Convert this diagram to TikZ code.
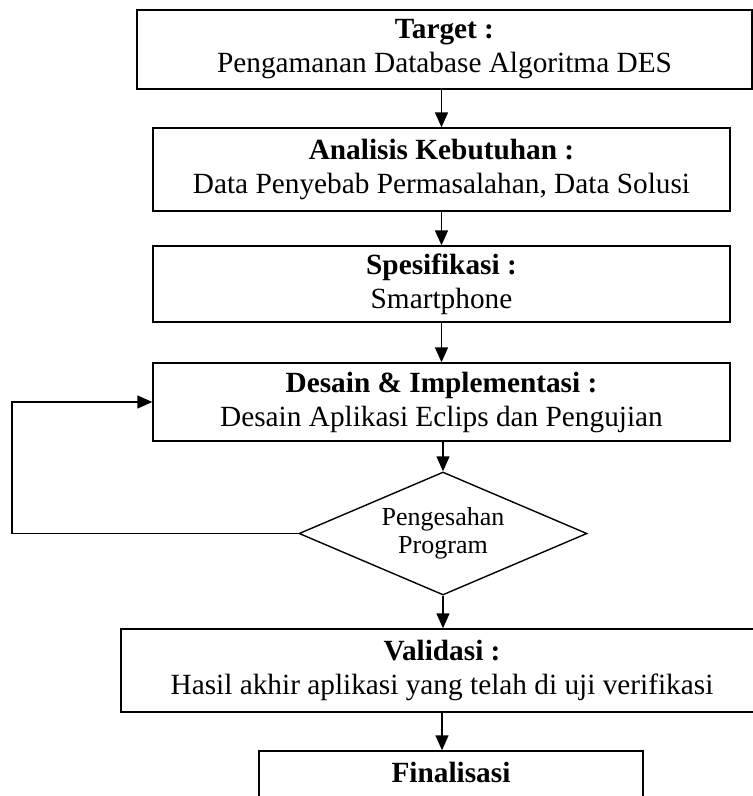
\documentclass[tikz,border=0pt]{standalone}
\usepackage{fontspec}
\setmainfont{Liberation Serif}
\usetikzlibrary{arrows.meta,shapes.geometric}
\begin{document}
\begin{tikzpicture}[x=1pt,y=-1pt,
  box/.style={draw, line width=1.4pt, rectangle, align=center, inner sep=0pt,
    font=\fontsize{29.3}{34}\selectfont},
  decision/.style={draw, line width=1.4pt, diamond, shape aspect=2.34, inner sep=0pt,
    minimum width=288pt, minimum height=123pt, align=center,
    font=\fontsize{26}{28.5}\selectfont},
  plain/.style={inner sep=0pt, font=\fontsize{29.3}{34}\selectfont\bfseries},
  arr/.style={line width=1.4pt, -{Triangle[length=15pt,width=13pt]}},
]
\useasboundingbox (0,0) rectangle (753,796);
\clip (0,0) rectangle (753,796);

\node[box, minimum width=615pt, minimum height=79pt] (tgt) at (444.5,49.5)
  {\textbf{Target :}\\Pengamanan Database Algoritma DES};
\node[box, minimum width=577pt, minimum height=83pt] (ana) at (441.5,169.5)
  {\textbf{Analisis Kebutuhan :}\\Data Penyebab Permasalahan, Data Solusi};
\node[box, minimum width=577pt, minimum height=76pt] (spe) at (441.5,284)
  {\textbf{Spesifikasi :}\\Smartphone};
\node[box, minimum width=577pt, minimum height=78pt] (des) at (441.5,402)
  {\textbf{Desain \& Implementasi :}\\Desain Aplikasi Eclips dan Pengujian};
\node[decision] (dia) at (443,533.5) {Pengesahan\\Program};
\node[box, minimum width=642pt, minimum height=83pt] (val) at (442,670.5)
  {\textbf{Validasi :}\\Hasil akhir aplikasi yang telah di uji verifikasi};
\node[box, minimum width=384pt, minimum height=84pt] (fin) at (451,793) {};
\node[plain] (fint) at (451,772) {Finalisasi};

\coordinate (fb) at (12,0);

\draw[arr] (ana.north |- tgt.south) -- (ana.north);
\draw[arr] (ana.south) -- (spe.north);
\draw[arr] (spe.south) -- (des.north);
\draw[arr] (des.south -| dia.north) -- (dia.north);
\draw[arr] (dia.south) -- (dia.south |- val.north);
\draw[arr] (val.south) -- (val.south |- fin.north);
\draw[arr] (dia.west) -- (dia.west -| fb) |- (des.west);
\end{tikzpicture}
\end{document}
